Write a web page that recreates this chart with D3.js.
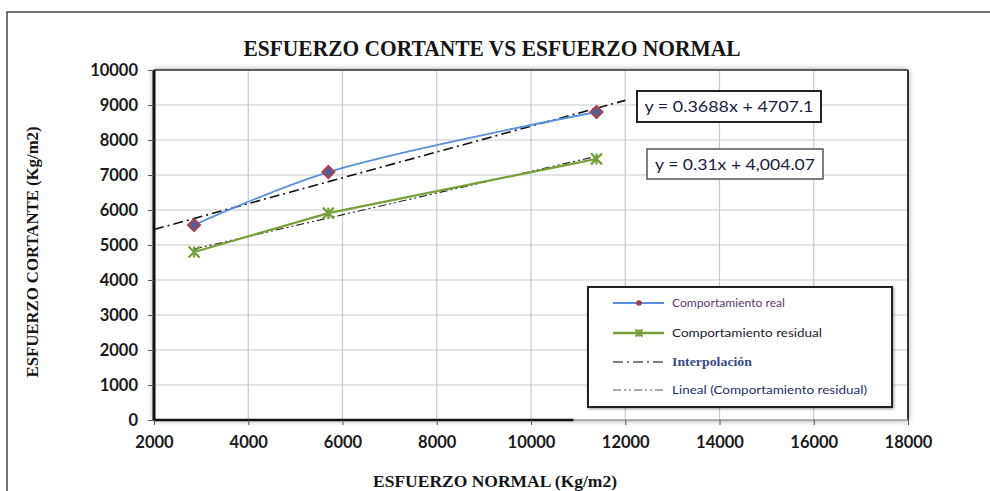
<!DOCTYPE html>
<html>
<head>
<meta charset="utf-8">
<script src="https://cdn.jsdelivr.net/npm/d3@7"></script>
<style>
  html, body { margin: 0; padding: 0; background: #fff; }
  svg { display: block; }
</style>
</head>
<body>
<svg id="chart" width="990" height="491"></svg>
<script>
// ---- data ----
const normalStress = [2850, 5700, 11390];          // ESFUERZO NORMAL (Kg/m2)
const realShear = [5570, 7085, 8800];               // Comportamiento real
const residualShear = [4800, 5910, 7460];           // Comportamiento residual
const interpSlope = 0.3688, interpIntercept = 4707.1;
const interpRange = [2000, 12000];
const residSlope = 0.31, residIntercept = 4004.07;
const xTicks = [2000, 4000, 6000, 8000, 10000, 12000, 14000, 16000, 18000];
const yTicks = [0, 1000, 2000, 3000, 4000, 5000, 6000, 7000, 8000, 9000, 10000];
const legendLabels = ["Comportamiento real", "Comportamiento residual", "Interpolación", "Lineal (Comportamiento residual)"];
const equationLabels = ["y = 0.3688x + 4707.1", "y = 0.31x + 4,004.07"];
const titleText = "ESFUERZO CORTANTE VS ESFUERZO NORMAL";
const xTitle = "ESFUERZO NORMAL  (Kg/m2)";
const yTitle = "ESFUERZO CORTANTE (Kg/m2)";

const svg = d3.select("#chart");
const x = d3.scaleLinear().domain([2000, 18000]).range([154, 908]);
const y = d3.scaleLinear().domain([0, 10000]).range([420, 70]);

const defs = svg.append("defs");
const f = defs.append("filter").attr("id", "shadow").attr("x", "-10%").attr("y", "-10%").attr("width", "120%").attr("height", "120%");
f.append("feDropShadow").attr("dx", 0).attr("dy", 0).attr("stdDeviation", 3).attr("flood-color", "#000").attr("flood-opacity", 0.45);
const f2 = defs.append("filter").attr("id", "shadow2").attr("x", "-10%").attr("y", "-10%").attr("width", "120%").attr("height", "120%");
f2.append("feDropShadow").attr("dx", 1).attr("dy", 1).attr("stdDeviation", 1.5).attr("flood-color", "#000").attr("flood-opacity", 0.4);

// outer frame
svg.append("path").attr("d", "M7,491 V12 H990").attr("fill", "none").attr("stroke", "#444").attr("stroke-width", 1.5);

// title
svg.append("text").attr("x", 492).attr("y", 56).attr("text-anchor", "middle")
  .attr("font-family", "Liberation Serif, DejaVu Serif, serif").attr("font-weight", "bold")
  .attr("font-size", 24).attr("fill", "#151515")
  .attr("textLength", 497).attr("lengthAdjust", "spacingAndGlyphs").text(titleText);

// plot area
const [x0, x1] = x.range(); const [y0, y1] = [y(10000), y(0)];
svg.append("rect").attr("x", x0).attr("y", y0).attr("width", x1 - x0).attr("height", y1 - y0)
  .attr("fill", "#fff").attr("filter", "url(#shadow)");

// grid
svg.append("g").selectAll("line").data(xTicks.slice(1)).join("line")
  .attr("x1", d => x(d)).attr("x2", d => x(d)).attr("y1", y0).attr("y2", y1)
  .attr("stroke", "#c9c9c9").attr("stroke-width", 1.2);
svg.append("g").selectAll("line").data(yTicks.slice(1)).join("line")
  .attr("x1", x0).attr("x2", x1).attr("y1", d => y(d)).attr("y2", d => y(d))
  .attr("stroke", "#c9c9c9").attr("stroke-width", 1.2);

// borders
svg.append("line").attr("x1", x0).attr("x2", x1).attr("y1", y0).attr("y2", y0).attr("stroke", "#333").attr("stroke-width", 1.5);
svg.append("line").attr("x1", x1).attr("x2", x1).attr("y1", y0).attr("y2", y1).attr("stroke", "#333").attr("stroke-width", 2);
svg.append("line").attr("x1", x0).attr("x2", x1).attr("y1", y1).attr("y2", y1).attr("stroke", "#9a9a9a").attr("stroke-width", 1.5);
svg.append("line").attr("x1", x0).attr("x2", x(10900)).attr("y1", y1).attr("y2", y1).attr("stroke", "#111").attr("stroke-width", 2.5);
svg.append("line").attr("x1", x0).attr("x2", x0).attr("y1", y0).attr("y2", y1).attr("stroke", "#111").attr("stroke-width", 3);

// axes
const tickFont = "Lato, Open Sans, sans-serif";
const yAxis = svg.append("g").attr("transform", `translate(${x0},0)`)
  .call(d3.axisLeft(y).tickValues(yTicks).tickSize(6).tickPadding(10).tickFormat(d3.format("d")));
yAxis.select(".domain").remove();
yAxis.selectAll("line").attr("stroke", "#555");
yAxis.selectAll("text").attr("font-family", tickFont).attr("font-weight", "bold").attr("font-size", 16.5).attr("fill", "#1a1a1a");

const xAxis = svg.append("g").attr("transform", `translate(0,${y1})`)
  .call(d3.axisBottom(x).tickValues(xTicks).tickSize(5).tickPadding(11).tickFormat(d3.format("d")));
xAxis.select(".domain").remove();
xAxis.selectAll("line").attr("stroke", "#555");
xAxis.selectAll("text").attr("font-family", tickFont).attr("font-weight", "bold").attr("font-size", 16.5).attr("fill", "#1a1a1a");

// axis titles
svg.append("text").attr("x", 495).attr("y", 487).attr("text-anchor", "middle")
  .attr("font-family", "Liberation Serif, serif").attr("font-weight", "bold").attr("font-size", 17)
  .attr("fill", "#151515").attr("textLength", 244).attr("lengthAdjust", "spacingAndGlyphs").text(xTitle);
svg.append("text").attr("transform", "translate(38,252) rotate(-90)").attr("text-anchor", "middle")
  .attr("font-family", "Liberation Serif, serif").attr("font-weight", "bold").attr("font-size", 16)
  .attr("fill", "#151515").attr("textLength", 251).attr("lengthAdjust", "spacingAndGlyphs").text(yTitle);

// trendlines
const interpLine = d3.line().x(d => x(d)).y(d => y(interpSlope * d + interpIntercept));
svg.append("path").attr("d", interpLine(interpRange)).attr("fill", "none")
  .attr("stroke", "#111").attr("stroke-width", 1.6).attr("stroke-dasharray", "10,4,2,4");
const residExtent = d3.extent(normalStress);
const residLine = d3.line().x(d => x(d)).y(d => y(residSlope * d + residIntercept));
svg.append("path").attr("d", residLine(residExtent)).attr("fill", "none")
  .attr("stroke", "#222").attr("stroke-width", 1.1).attr("stroke-dasharray", "8,3,2,3,2,3");

// series lines
const realData = normalStress.map((v, i) => [v, realShear[i]]);
const residData = normalStress.map((v, i) => [v, residualShear[i]]);
const smooth = d3.line().x(d => x(d[0])).y(d => y(d[1])).curve(d3.curveCatmullRom.alpha(0.5));
svg.append("path").attr("d", smooth(realData)).attr("fill", "none").attr("stroke", "#5b8fd9").attr("stroke-width", 1.8);
const straight = d3.line().x(d => x(d[0])).y(d => y(d[1]));
svg.append("path").attr("d", straight(residData)).attr("fill", "none").attr("stroke", "#76a03a").attr("stroke-width", 2.2);

// markers
function diamond(g, cx, cy, r) {
  g.append("path").attr("d", `M${cx},${cy - r}L${cx + r},${cy}L${cx},${cy + r}L${cx - r},${cy}Z`)
    .attr("fill", "#4e5f9c").attr("stroke", "#a8404e").attr("stroke-width", 2);
}
function star(g, cx, cy, r) {
  g.append("path").attr("d", `M${cx - r},${cy - r}L${cx + r},${cy + r}M${cx - r},${cy + r}L${cx + r},${cy - r}M${cx},${cy - r}L${cx},${cy + r}`)
    .attr("stroke", "#76a03a").attr("stroke-width", 2.2).attr("fill", "none");
}
const mk = svg.append("g");
realData.forEach(d => diamond(mk, x(d[0]), y(d[1]), 6));
residData.forEach(d => star(mk, x(d[0]), y(d[1]), 5.5));

// equation labels
const eqBoxes = [
  { x: 637, y: 91, w: 184, h: 31, sw: 2, stroke: "#222", tl: 169 },
  { x: 647, y: 149, w: 176, h: 30, sw: 1.5, stroke: "#555", tl: 160 }
];
eqBoxes.forEach((b, i) => {
  svg.append("rect").attr("x", b.x).attr("y", b.y).attr("width", b.w).attr("height", b.h)
    .attr("fill", "#fff").attr("stroke", b.stroke).attr("stroke-width", b.sw);
  svg.append("text").attr("x", b.x + b.w / 2).attr("y", b.y + b.h / 2 + 5.5).attr("text-anchor", "middle")
    .attr("font-family", "Lato, sans-serif").attr("font-size", 16).attr("fill", "#1c1c3c")
    .attr("textLength", b.tl).attr("lengthAdjust", "spacingAndGlyphs").text(equationLabels[i]);
});

// legend
svg.append("rect").attr("x", 588).attr("y", 287).attr("width", 304).attr("height", 120)
  .attr("fill", "#fff").attr("stroke", "#222").attr("stroke-width", 2).attr("filter", "url(#shadow2)");
const rowsY = [303, 333, 362, 390];
const legColors = ["#5a3c70", "#1a1a2a", "#3a4a8a", "#26306a"];
const legLen = [113, 150, 80, 195];
const lg = svg.append("g");
// row 1
lg.append("line").attr("x1", 613).attr("x2", 664).attr("y1", rowsY[0]).attr("y2", rowsY[0]).attr("stroke", "#5b8fd9").attr("stroke-width", 1.8);
lg.append("circle").attr("cx", 639).attr("cy", rowsY[0]).attr("r", 2.8).attr("fill", "#9a3a4a");
// row 2
lg.append("line").attr("x1", 613).attr("x2", 664).attr("y1", rowsY[1]).attr("y2", rowsY[1]).attr("stroke", "#76a03a").attr("stroke-width", 2.6);
star(lg, 639, rowsY[1], 3.5);
// row 3
lg.append("line").attr("x1", 613).attr("x2", 664).attr("y1", rowsY[2]).attr("y2", rowsY[2]).attr("stroke", "#555").attr("stroke-width", 1.6).attr("stroke-dasharray", "10,4,2,4");
// row 4
lg.append("line").attr("x1", 613).attr("x2", 664).attr("y1", rowsY[3]).attr("y2", rowsY[3]).attr("stroke", "#555").attr("stroke-width", 1.1).attr("stroke-dasharray", "8,3,2,3,2,3");
legendLabels.forEach((t, i) => {
  lg.append("text").attr("x", 672).attr("y", rowsY[i] + 4)
    .attr("font-family", i === 2 ? "Liberation Serif, serif" : "Lato, sans-serif")
    .attr("font-weight", i === 2 ? "bold" : "normal")
    .attr("font-size", 11.5).attr("fill", legColors[i])
    .attr("textLength", legLen[i]).attr("lengthAdjust", "spacingAndGlyphs").text(t);
});
</script>
</body>
</html>
